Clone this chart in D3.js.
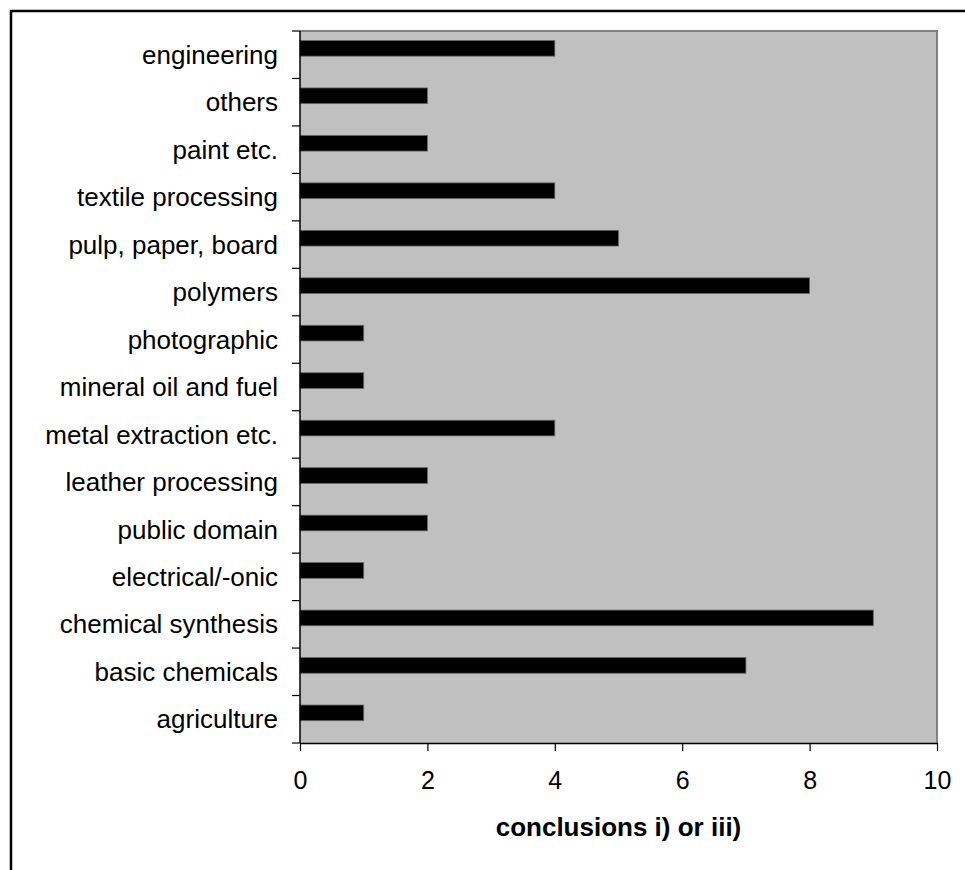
<!DOCTYPE html>
<html>
<head>
<meta charset="utf-8">
<script src="https://cdn.jsdelivr.net/npm/d3@7"></script>
<style>
  html, body { margin: 0; padding: 0; background: #fff; }
  svg { display: block; }
  text { font-family: "Liberation Sans", Arial, sans-serif; fill: #000; }
</style>
</head>
<body>
<script>
// Industry sectors, listed top to bottom
const categories = [
  "engineering", "others", "paint etc.", "textile processing",
  "pulp, paper, board", "polymers", "photographic", "mineral oil and fuel",
  "metal extraction etc.", "leather processing", "public domain",
  "electrical/-onic", "chemical synthesis", "basic chemicals", "agriculture"
];
// Number of conclusions i) or iii) per sector
const values = [4, 2, 2, 4, 5, 8, 1, 1, 4, 2, 2, 1, 9, 7, 1];
const xTicks = [0, 2, 4, 6, 8, 10];
const xTitle = "conclusions i) or iii)";

const W = 965, H = 870;
const plot = { left: 300, top: 31, right: 937, bottom: 743 };

const svg = d3.select("body").append("svg")
  .attr("width", W).attr("height", H);

// Frame around the whole chart
svg.append("rect")
  .attr("x", 11).attr("y", 11)
  .attr("width", 1000).attr("height", 1000)
  .attr("fill", "none").attr("stroke", "#000").attr("stroke-width", 2.5);

const x = d3.scaleLinear().domain([0, 10]).range([plot.left, plot.right]);
const y = d3.scaleBand().domain(categories).range([plot.top, plot.bottom]).padding(0);
const bw = y.bandwidth();

// Plot area
svg.append("rect")
  .attr("x", plot.left).attr("y", plot.top)
  .attr("width", plot.right - plot.left).attr("height", plot.bottom - plot.top)
  .attr("fill", "#c0c0c0");
svg.append("path")
  .attr("d", `M${plot.left},${plot.top}H${plot.right}V${plot.bottom}`)
  .attr("fill", "none").attr("stroke", "#808080").attr("stroke-width", 2);

// Bars
svg.append("g").selectAll("rect")
  .data(categories)
  .join("rect")
  .attr("x", x(0))
  .attr("y", (d) => y(d) + bw * 0.2)
  .attr("width", (d, i) => x(values[i]) - x(0))
  .attr("height", bw * 0.33)
  .attr("fill", "#000")
  .attr("stroke", "#666").attr("stroke-width", 0.8);

// Category axis: ticks on band boundaries, labels centred in each band
const yAxis = svg.append("g");
yAxis.append("line")
  .attr("x1", plot.left).attr("x2", plot.left)
  .attr("y1", plot.top).attr("y2", plot.bottom)
  .attr("stroke", "#000").attr("stroke-width", 1.5);
const boundaries = categories.map((d) => y(d)).concat([plot.bottom]);
yAxis.selectAll("line.tick")
  .data(boundaries)
  .join("line").attr("class", "tick")
  .attr("x1", plot.left - 8).attr("x2", plot.left)
  .attr("y1", (d) => d).attr("y2", (d) => d)
  .attr("stroke", "#000").attr("stroke-width", 1.2);
yAxis.selectAll("text")
  .data(categories)
  .join("text")
  .attr("x", 278)
  .attr("y", (d) => y(d) + bw / 2)
  .attr("dy", "0.35em")
  .attr("text-anchor", "end")
  .attr("font-size", 26)
  .text((d) => d);

// Value axis
const xAxis = svg.append("g")
  .attr("transform", `translate(0,${plot.bottom})`)
  .call(d3.axisBottom(x).tickValues(xTicks).tickSize(8).tickSizeOuter(0).tickPadding(20));
xAxis.select(".domain").attr("stroke", "#000").attr("stroke-width", 1.5);
xAxis.selectAll(".tick line").attr("stroke", "#000").attr("stroke-width", 1.2);
xAxis.selectAll(".tick text")
  .attr("font-size", 25)
  .attr("font-family", "Liberation Sans, Arial, sans-serif")
  .attr("fill", "#000");

svg.append("text")
  .attr("x", (plot.left + plot.right) / 2)
  .attr("y", 836)
  .attr("text-anchor", "middle")
  .attr("font-size", 26)
  .attr("font-weight", "bold")
  .text(xTitle);
</script>
</body>
</html>
